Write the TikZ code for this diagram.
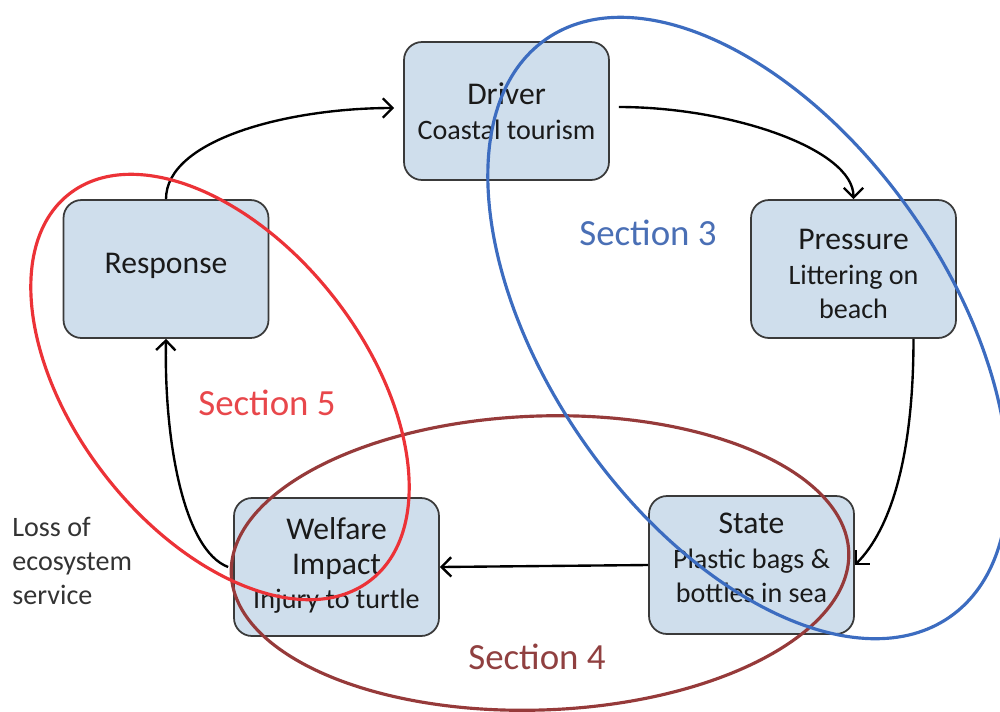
\documentclass[tikz,border=0pt]{standalone}
\usepackage{fontspec}
\setmainfont{Carlito}
\usetikzlibrary{arrows.meta}
\definecolor{boxfill}{HTML}{CFDEEC}
\definecolor{boxline}{HTML}{3A3A3A}
\definecolor{txt}{HTML}{1A1A1A}
\definecolor{ellblue}{HTML}{3C6CC0}
\definecolor{secblue}{HTML}{4A6FB5}
\definecolor{ellred}{HTML}{EC3237}
\definecolor{secred}{HTML}{E8474B}
\definecolor{ellmaroon}{HTML}{963A3A}
\definecolor{secmaroon}{HTML}{904040}
\tikzset{
  dpsirbox/.style={draw=boxline, line width=1pt, fill=boxfill, rounded corners=0.36cm,
    minimum width=4.1cm, minimum height=2.76cm, inner sep=2pt},
  boxtext/.style={align=center, text=txt, inner sep=0pt,
    font=\fontsize{16pt}{19.6pt}\selectfont},
  arr/.style={line width=1.35pt, draw=black, -{Straight Barb[length=5.5pt,width=11pt]}},
  ell/.style={line width=1.8pt},
  sectxt/.style={font=\fontsize{21pt}{24pt}\selectfont, inner sep=0pt},
}
\newcommand{\ttl}[1]{{\fontsize{18pt}{19.6pt}\selectfont #1}}
\begin{document}
\begin{tikzpicture}[x=0.02cm, y=-0.02cm]
\useasboundingbox (0,0) rectangle (1000,711);
% boxes
\node[dpsirbox, label={[boxtext, name=drvt]center:{\ttl{Driver}\\Coastal tourism}}] (drv) at (506.5,111) {};
\node[dpsirbox, label={[boxtext, name=prest, yshift=-0.1cm]center:{\ttl{Pressure}\\Littering on\\beach}}] (pres) at (853.5,269) {};
\node[dpsirbox, label={[boxtext, name=statet, yshift=0.14cm]center:{\ttl{State}\\Plastic bags \&\\bottles in sea}}] (state) at (751.5,565) {};
\node[dpsirbox, label={[boxtext, name=welft, yshift=0.03cm]center:{\ttl{Welfare}\\\ttl{Impact}\\Injury to turtle}}] (welf) at (336.5,567) {};
\node[dpsirbox, label={[boxtext, name=respt, yshift=0.06cm]center:{\ttl{Response}}}] (resp) at (166,269) {};
% side text
\node[anchor=west, align=left, inner sep=0pt, text={black!80}, font=\fontsize{16pt}{19.6pt}\selectfont] (loss) at (12,561) {Loss of\\ecosystem\\service};
% arrows
\draw[arr] (resp.north) .. controls +(0,-60) and +(-105,0) .. ([xshift=-0.18cm, yshift=0.06cm]drv.west);
\draw[arr] ([xshift=0.18cm, yshift=0.08cm]drv.east) .. controls +(112,0) and +(0,-50) .. (pres.north);
\draw[arr] ([xshift=1.2cm]pres.south) .. controls +(0,120) and +(35,-35) .. (state.east);
\draw[arr] (state.west) -- (welf.east);
\draw[arr] ([xshift=-0.1cm]welf.west) .. controls +(-45,-17) and +(-2,100) .. (resp.south);
% section labels
\node[sectxt, text=secblue] (s3) at (648,233) {Section 3};
\node[sectxt, text=secred] (s5) at (267,403) {Section 5};
\node[sectxt, text=secmaroon] (s4) at (537,657) {Section 4};
% ellipses
\draw[ell, draw=ellmaroon, rotate around={2:(540,563)}] (540,563) ellipse [x radius=6.18cm, y radius=2.94cm];
\draw[ell, draw=ellblue, rotate around={-55:(748,328)}] (748,328) ellipse [x radius=7.05cm, y radius=4.0cm];
\draw[ell, draw=ellred, rotate around={-52:(220,387)}] (220,387) ellipse [x radius=4.9cm, y radius=2.9cm];
\end{tikzpicture}
\end{document}
